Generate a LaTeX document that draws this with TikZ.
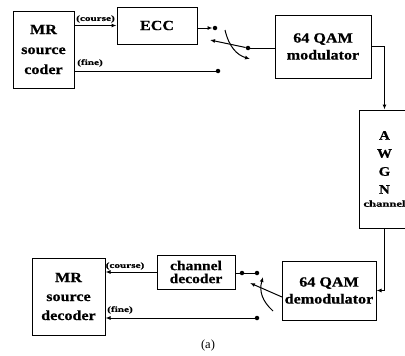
\documentclass[tikz,border=0pt]{standalone}
\usepackage{fontspec}
\setmainfont{Liberation Serif}
\newfontfamily\boxfont{Liberation Serif}[FakeStretch=1.15,FakeBold=0.6]
\newfontfamily\tagfont{Liberation Serif}[FakeStretch=1.4,FakeBold=0.5]
\usetikzlibrary{arrows.meta}

\begin{document}
\begin{tikzpicture}[x=1pt,y=-1pt,
        blk/.style={draw,line width=1pt,inner sep=0pt,align=center,
            font=\boxfont\bfseries\fontsize{14}{17}\selectfont},
        term/.style={circle,fill=black,inner sep=0pt,minimum size=4.5pt},
        tag/.style={inner sep=0pt,font=\tagfont\bfseries\fontsize{8}{9}\selectfont},
        arr/.style={-{Latex[length=5pt,width=4pt]}}]
        \clip (0,0) rectangle (405,356);

        % blocks
        \node[blk,minimum width=61pt,minimum height=77pt,font=\boxfont\bfseries\fontsize{14}{20}\selectfont] (coder) at (43.5,49.5) {MR\\source\\coder};
        \node[blk,minimum width=80pt,minimum height=37pt] (ecc) at (157,25.5) {ECC};
        \node[blk,minimum width=96pt,minimum height=63pt] (mod) at (323,46.5) {64 QAM\\modulator};
        \node[blk,minimum width=51pt,minimum height=118pt,font=\boxfont\bfseries\fontsize{13}{18}\selectfont] (awgn) at (384.5,169)
            {A\\W\\G\\N\\[-5pt]{\tagfont\fontsize{9}{10}\selectfont channel}};
        \node[blk,minimum width=94pt,minimum height=59pt] (demod) at (329,290.5) {64 QAM\\demodulator};
        \node[blk,minimum width=78pt,minimum height=34pt,font=\boxfont\bfseries\fontsize{13.5}{13}\selectfont] (chdec) at (196,272) {channel\\decoder};
        \node[blk,minimum width=73pt,minimum height=77pt,font=\boxfont\bfseries\fontsize{14}{19}\selectfont] (decoder) at (68.5,296.5) {MR\\source\\decoder};

        % switch terminals
        \begin{scope}[every node/.style={term}]
            \node (t1) at (215,28) {};
            \node (t2) at (218,71) {};
            \node (sw1) at (248,48) {};
            \node (t3) at (257,273) {};
            \node (b1) at (242,273) {};
            \node (t4) at (257,318) {};
        \end{scope}
        \coordinate (a1) at (210,40);
        \coordinate (sw2) at (282,297);
        \coordinate (a2) at (250,283);

        % labels
        \node[tag] (lc1) at (95.5,19) {(course)};
        \node[tag] (lf1) at (90,63) {(fine)};
        \node[tag] (lc2) at (125,266) {(course)};
        \node[tag] (lf2) at (120,310) {(fine)};
        \node[font=\fontsize{12.5}{14}\selectfont,inner sep=0pt] (cap) at (208,345) {(a)};

        % connections
        \begin{scope}[line width=1pt]
            \draw[arr] (coder.east |- ecc.west) -- (ecc.west);
            \draw (coder.east |- t2) -- (t2);
            \draw[arr] (ecc.east |- t1) -- (t1);
            \draw (mod.west |- sw1) -- (sw1);
            \draw[arr] (sw1) -- (a1);
            \draw[arr] (225,30) .. controls (229,47) and (237,55) .. (250,59);
            \draw[arr] (mod.east) -| (awgn.north);
            \draw[arr] (awgn.south) |- (demod.east);
            \draw[arr] (sw2) -- (a2);
            \draw[arr] (273,311) .. controls (262,301) and (259,291) .. (263,277);
            \draw (t3) -- (b1) -- (chdec.east |- b1);
            \draw[arr] (chdec.west) -- (decoder.east |- chdec.west);
            \draw[arr] (t4) -- (decoder.east |- t4);
        \end{scope}
\end{tikzpicture}
\end{document}
